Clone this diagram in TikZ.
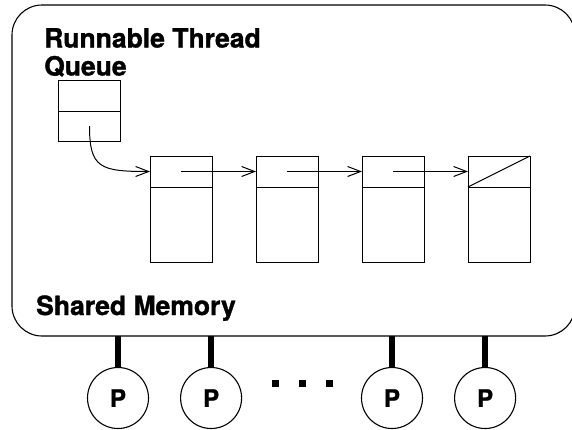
\documentclass[tikz,border=0pt]{standalone}
\usepackage{fontspec}
\newfontfamily\helv[FakeBold=1.2]{TeX Gyre Heros}
\usetikzlibrary{
  arrows.meta,
  positioning
}
\tikzset{
  membox/.style={
    draw,
    line width=1.1pt,
    rounded corners=30pt,
    inner sep=0pt,
    outer sep=0pt
  },
  title/.style={
    font=\helv\bfseries\fontsize{26.5}{28}\selectfont,
    inner sep=0pt,
    align=left
  },
  headcell/.style={
    draw,
    line width=1pt,
    minimum width=62pt,
    minimum height=31pt,
    inner sep=0pt,
    outer sep=0pt
  },
  bodycell/.style={
    headcell,
    minimum height=75pt
  },
  link/.style={
    -{Straight Barb[length=13pt,width=10pt]},
    line width=1pt
  },
  proc/.style={
    circle,
    draw,
    line width=1.1pt,
    minimum size=61pt,
    inner sep=0pt,
    font=\helv\bfseries\fontsize{24}{24}\selectfont
  },
  bus/.style={
    line width=6pt
  },
  dotmark/.style={
    fill,
    minimum size=7pt,
    inner sep=0pt
  }
}
\begin{document}
\begin{tikzpicture}[x=1pt, y=-1pt, node distance=44pt]
  \useasboundingbox (0,0) rectangle (572,429);
  \node[membox, minimum width=563pt, minimum height=331pt, anchor=north west]
    (mem) at (12,5) {};
  \node[title, anchor=north west] (queue) at (44,28) {Runnable Thread\\Queue};
  \node[title, anchor=base west] (shared) at (36,315) {Shared Memory};

  % queue head
  \node[headcell] (qtop) at (89.5,95.5) {};
  \node[headcell, minimum height=30pt, below=0pt of qtop] (qbot) {};

  % thread records
  \node[headcell] (t1) at (181,171.5) {};
  \node[headcell, right=of t1] (t2) {};
  \node[headcell, right=of t2] (t3) {};
  \node[headcell, right=of t3] (t4) {};
  \foreach \n in {1,...,4}{
    \node[bodycell, below=0pt of t\n] (b\n) {};
  }
  \draw[link] (qbot.center) .. controls (89.5,168) and (100,171.5) .. (t1.west);
  \foreach \a/\b in {t1/t2,t2/t3,t3/t4}{
    \draw[link] (\a.center) -- (\b.west);
  }
  \draw[line width=1pt] (t4.south west) -- (t4.north east);

  % processors
  \node[proc] (p1) at (118,398) {P};
  \node[proc, right=31pt of p1] (p2) {P};
  \node[proc] (p3) at (392,398) {P};
  \node[proc, right=31pt of p3] (p4) {P};
  \foreach \p in {p1,p2,p3,p4}{
    \draw[bus] (mem.south -| \p) -- (\p.north);
  }
  \node[dotmark] (d1) at (275,383) {};
  \node[dotmark, right=20pt of d1] (d2) {};
  \node[dotmark, right=20pt of d2] (d3) {};
\end{tikzpicture}
\end{document}
